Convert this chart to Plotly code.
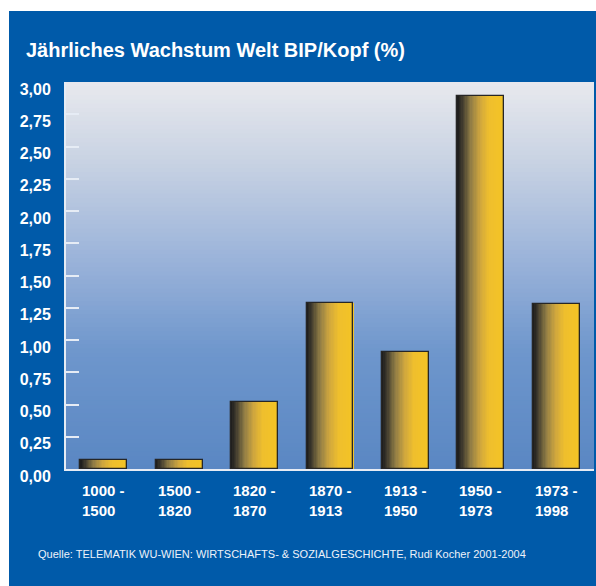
import plotly.graph_objects as go

# ---- data ----
periods = ["1000 -<br>1500", "1500 -<br>1820", "1820 -<br>1870", "1870 -<br>1913",
           "1913 -<br>1950", "1950 -<br>1973", "1973 -<br>1998"]
growth = [0.07, 0.07, 0.52, 1.29, 0.91, 2.89, 1.28]
y_ticks = [0, 0.25, 0.5, 0.75, 1.0, 1.25, 1.5, 1.75, 2.0, 2.25, 2.5, 2.75, 3.0]
title_text = "Jährliches Wachstum Welt BIP/Kopf (%)"
source_text = "Quelle: TELEMATIK WU-WIEN: WIRTSCHAFTS- & SOZIALGESCHICHTE, Rudi Kocher 2001-2004"

# ---- style ----
W, H = 596, 586
ML, MR, MT, MB = 66, 2, 82, 117
PW, PH = W - ML - MR, H - MT - MB
BLUE = "#005AA9"
FONT = "Liberation Sans, Arial, Helvetica, sans-serif"
BAR_W = 0.62
N_SLICES = 36


def hex2rgb(h):
    h = h.lstrip("#")
    return [int(h[i:i + 2], 16) for i in (0, 2, 4)]


def interp(stops, t):
    for (t0, c0), (t1, c1) in zip(stops, stops[1:]):
        if t0 <= t <= t1:
            f = 0 if t1 == t0 else (t - t0) / (t1 - t0)
            a, b = hex2rgb(c0), hex2rgb(c1)
            return "rgb(%d,%d,%d)" % tuple(round(a[k] + (b[k] - a[k]) * f) for k in range(3))
    return stops[-1][1]


bar_stops = [(0, "#1b1b1b"), (0.1, "#3f3a2e"), (0.28, "#8f7c45"), (0.48, "#cfa63e"),
             (0.68, "#efbf2d"), (1.0, "#f4c425")]
bg_stops = [(0, "#e8e9ee"), (0.2, "#c9d3e3"), (0.45, "#9cb4da"), (0.7, "#6e96cc"), (1.0, "#5a87c3")]

cats = list(range(len(periods)))
fig = go.Figure()

# gradient bars made of thin slices
for i in range(N_SLICES):
    t = (i + 0.5) / N_SLICES
    sw = BAR_W / N_SLICES
    fig.add_trace(go.Bar(
        x=cats, y=growth,
        width=sw * (1.6 if i < N_SLICES - 1 else 1.0),
        offset=-BAR_W / 2 + i * sw,
        marker=dict(color=interp(bar_stops, t), line=dict(width=0)),
        hoverinfo="skip", showlegend=False,
    ))
# outline
fig.add_trace(go.Bar(
    x=cats, y=growth, width=BAR_W, offset=-BAR_W / 2,
    marker=dict(color="rgba(0,0,0,0)", line=dict(color="#262626", width=1.3)),
    showlegend=False,
))

shapes = []
# white margins around blue panel
shapes.append(dict(type="rect", xref="paper", yref="paper",
                   x0=(0 - ML) / PW, x1=(W - ML) / PW,
                   y0=(H - MB - 11) / PH, y1=(H - MB) / PH + 0.1,
                   fillcolor="white", line=dict(width=0), layer="below"))
shapes.append(dict(type="rect", xref="paper", yref="paper",
                   x0=(0 - ML) / PW - 0.1, x1=(9 - ML) / PW,
                   y0=-MB / PH - 0.1, y1=(H - MB) / PH + 0.1,
                   fillcolor="white", line=dict(width=0), layer="below"))
# plot-area vertical gradient
NB = 90
for k in range(NB):
    t = (k + 0.5) / NB
    shapes.append(dict(type="rect", xref="x domain", yref="y domain",
                       x0=0, x1=1, y0=1 - (k + 1.4) / NB, y1=1 - k / NB,
                       fillcolor=interp(bg_stops, t), line=dict(width=0), layer="below"))

annotations = []
for i, p in enumerate(periods):
    annotations.append(dict(
        x=i - BAR_W / 2, xref="x", y=(0 - 11) / PH, yref="paper",
        xanchor="left", yanchor="top", align="left", showarrow=False,
        text="<b>%s</b>" % p, font=dict(family=FONT, size=15, color="white")))
annotations.append(dict(
    x=(36 - ML) / PW, xref="paper", y=(MT + PH - 554) / PH, yref="paper",
    xanchor="left", yanchor="middle", showarrow=False, text=source_text,
    font=dict(family=FONT, size=11, color="#eef2fa")))

fig.update_layout(
    width=W, height=H,
    margin=dict(l=ML, r=MR, t=MT, b=MB, pad=0),
    paper_bgcolor=BLUE, plot_bgcolor="rgba(0,0,0,0)",
    barmode="overlay", bargap=0,
    separators=",.",
    title=dict(text="<b>%s</b>" % title_text, xref="container", yref="container",
               x=26 / W, xanchor="left", y=1 - 50 / H, yanchor="middle",
               font=dict(family=FONT, size=20, color="white")),
    xaxis=dict(range=[-0.5, len(periods) - 0.5], showticklabels=False, ticks="",
               showgrid=False, zeroline=False, showline=True,
               linecolor="#e6ecf5", linewidth=2),
    yaxis=dict(range=[0, 3.0], tickvals=y_ticks, tickformat=".2f",
               ticks="inside", ticklen=13, tickwidth=2, tickcolor="#e6ecf5",
               showgrid=False, zeroline=False, showline=True,
               linecolor="#e6ecf5", linewidth=2,
               ticklabelstandoff=10, ticklabelshift=7,
               tickfont=dict(family=FONT, size=16, color="white", weight="bold")),
    shapes=shapes, annotations=annotations,
)

fig.write_html("out.html")
